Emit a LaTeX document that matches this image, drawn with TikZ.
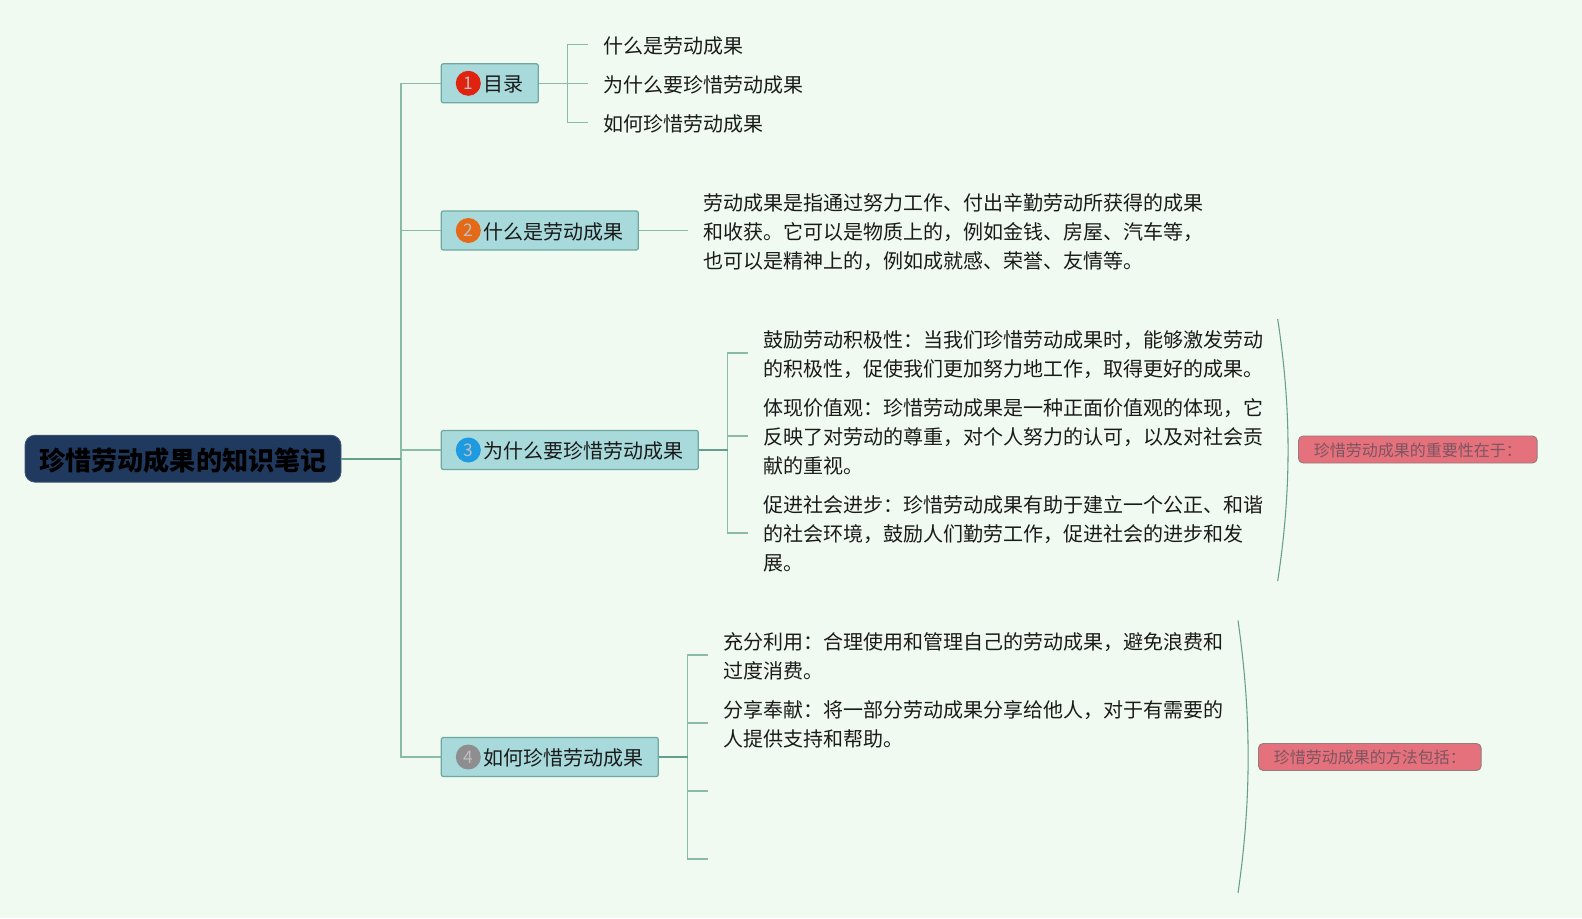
\documentclass[tikz,border=0pt]{standalone}
\usepackage{fontspec}
\setmainfont{Noto Sans CJK SC}
\definecolor{bgc}{HTML}{F0FAF0}
\definecolor{rootc}{HTML}{203A5F}
\definecolor{topicc}{HTML}{A8DADC}
\definecolor{topicl}{HTML}{6FA89F}
\definecolor{linec}{HTML}{8ABBA9}
\definecolor{linedk}{HTML}{659F8D}
\definecolor{summc}{HTML}{E5717C}
\definecolor{summt}{HTML}{7C5560}
\definecolor{txtc}{HTML}{1A1A1A}
\definecolor{bred}{HTML}{E0230F}
\definecolor{borange}{HTML}{E56A17}
\definecolor{bblue}{HTML}{1E9BE0}
\definecolor{bgray}{HTML}{8E8E90}
\tikzset{
  x=0.75pt,y=-0.75pt,
  rootbox/.style={draw=rootc!85!white,fill=rootc,rounded corners=7.5pt,line width=0.6pt,minimum width=237pt,minimum height=35.2pt,inner sep=0pt,text=black,font=\fontsize{19.6}{24}\selectfont\bfseries},
  topic/.style={draw=topicl,fill=topicc,rounded corners=1.5pt,line width=0.9pt,anchor=west,minimum height=29.25pt,inner xsep=9.75pt,inner ysep=0pt,text=txtc,font=\fontsize{15}{20}\selectfont},
  badge/.style={circle,minimum size=18.75pt,inner sep=0pt,text=white!75!black,font=\fontsize{13}{15}\selectfont},
  leaf/.style={anchor=west,yshift=-0.9pt,inner xsep=11.25pt,inner ysep=0pt,align=left,text=txtc,font=\fontsize{15}{21.75}\selectfont},
  summ/.style={draw=gray!85!summc,fill=summc,rounded corners=3.5pt,line width=0.7pt,anchor=west,minimum height=20.25pt,inner sep=0pt,text=summt,font=\fontsize{12}{15}\selectfont},
  conn/.style={draw=linec,line width=1.1pt},
  trunk/.style={draw=linedk,line width=1.3pt},
  arc/.style={draw=linedk,line width=0.8pt},
}
\newcommand{\tpc}[1]{\raisebox{-0.75pt}[13.2pt][1.8pt]{\hspace*{21.75pt}#1\hspace*{1.5pt}}}
\newcommand{\rtt}[1]{\raisebox{-1.2pt}[17.16pt][2.34pt]{#1}}
\newcommand{\smm}[1]{\raisebox{-0.6pt}[10.56pt][1.44pt]{#1}}
\begin{document}
\begin{tikzpicture}
\useasboundingbox[fill=bgc] (0,0) rectangle (1582,918);

\node[rootbox] (root) at (183,458.7) {\rtt{珍惜劳动成果的知识笔记}};
\node[topic] (n1) at (440.7,83.3) {\tpc{目录}};
\node[topic] (n2) at (440.7,230.5) {\tpc{什么是劳动成果}};
\node[topic] (n3) at (440.7,450) {\tpc{为什么要珍惜劳动成果}};
\node[topic] (n4) at (440.7,757) {\tpc{如何珍惜劳动成果}};

\node[badge,fill=bred] (b1) at (468.3,83.3) {1};
\node[badge,fill=borange] (b2) at (468.3,230.5) {2};
\node[badge,fill=bblue] (b3) at (468.3,450) {3};
\node[badge,fill=bgray] (b4) at (468.3,757) {4};

\node[leaf] (a1) at (588,44.5) {什么是劳动成果};
\node[leaf] (a2) at (588,83.3) {为什么要珍惜劳动成果};
\node[leaf] (a3) at (588,122.5) {如何珍惜劳动成果};

\node[leaf] (p1) at (688,231) {劳动成果是指通过努力工作、付出辛勤劳动所获得的成果\\和收获。它可以是物质上的，例如金钱、房屋、汽车等，\\也可以是精神上的，例如成就感、荣誉、友情等。};

\node[leaf] (c1) at (748,353) {鼓励劳动积极性：当我们珍惜劳动成果时，能够激发劳动\\的积极性，促使我们更加努力地工作，取得更好的成果。};
\node[leaf] (c2) at (748,436) {体现价值观：珍惜劳动成果是一种正面价值观的体现，它\\反映了对劳动的尊重，对个人努力的认可，以及对社会贡\\献的重视。};
\node[leaf] (c3) at (748,533) {促进社会进步：珍惜劳动成果有助于建立一个公正、和谐\\的社会环境，鼓励人们勤劳工作，促进社会的进步和发\\展。};

\node[leaf] (d1) at (708,655) {充分利用：合理使用和管理自己的劳动成果，避免浪费和\\过度消费。};
\node[leaf] (d2) at (708,723) {分享奉献：将一部分劳动成果分享给他人，对于有需要的\\人提供支持和帮助。};

\node[summ,minimum width=179pt] (s1) at (1298,449.5) {\smm{珍惜劳动成果的重要性在于：}};
\node[summ,minimum width=167pt] (s2) at (1258,757) {\smm{珍惜劳动成果的方法包括：}};

\coordinate (tr) at (401,458.7);
\coordinate (j1) at (567.7,83.3);
\coordinate (j3) at (727.7,450);
\coordinate (j4) at (687.7,757);
\coordinate (d3) at (707.7,791);
\coordinate (d4) at (707.7,859);
\coordinate (u1) at (1277.7,319);
\coordinate (v1) at (1277.7,581);
\coordinate (u2) at (1238,620.5);
\coordinate (v2) at (1238,893);

% trunk
\draw[conn] (tr) |- (n1.west);
\draw[conn] (tr) |- (n2.west);
\draw[conn] (tr) |- (n3.west);
\draw[conn] (tr) |- (n4.west);
\draw[trunk] (root.east) -- (tr);

% topic 1
\draw[conn] (n1.east) -- ([yshift=0.9pt]a2.west);
\draw[conn] (j1) |- ([yshift=0.9pt]a1.west);
\draw[conn] (j1) |- ([yshift=0.9pt]a3.west);
% topic 2
\draw[conn] (n2.east) -- (p1.west |- n2.east);
% topic 3
\draw[conn] (j3) |- ([yshift=0.9pt]c1.west);
\draw[conn] (j3) |- ([yshift=0.9pt]c2.west);
\draw[conn] (j3) |- ([yshift=0.9pt]c3.west);
\draw[trunk] (n3.east) -- (j3);
% topic 4
\draw[conn] (j4) |- ([yshift=0.9pt]d1.west);
\draw[conn] (j4) |- ([yshift=0.9pt]d2.west);
\draw[conn] (j4) |- (d3);
\draw[conn] (j4) |- (d4);
\draw[trunk] (n4.east) -- (j4);

% summary arcs
\draw[arc] (u1) .. controls (1291.5,410) and (1291.5,490) .. (v1);
\draw[arc] (u2) .. controls (1251.5,715) and (1251.5,800) .. (v2);
\end{tikzpicture}
\end{document}
